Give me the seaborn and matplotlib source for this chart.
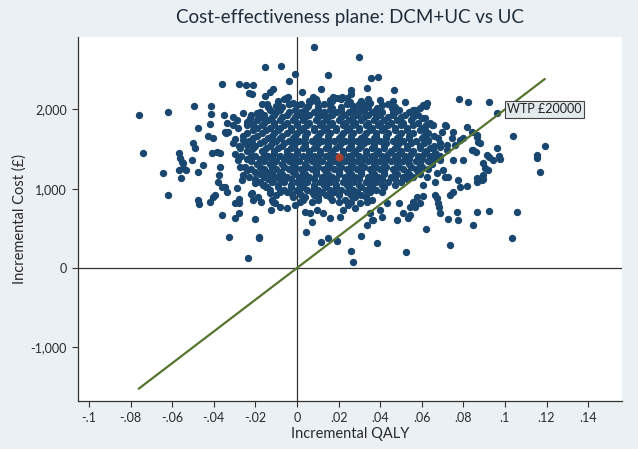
import matplotlib
matplotlib.use('Agg')
import matplotlib.pyplot as plt
import seaborn as sns
import pandas as pd

# Bootstrap replicates: scattered points (qaly, cost)
outer_points = [
    # far left
    (-0.0761, 1929), (-0.0619, 1963), (-0.0740, 1446), (-0.0643, 1194), (-0.0619, 920),
    (-0.0559, 1131), (-0.0567, 1236), (-0.0547, 1257), (-0.0534, 1236),
    (-0.0567, 1446), (-0.0563, 1383), (-0.0555, 1340), (-0.0547, 1320),
    (-0.0506, 1362), (-0.0478, 1215), (-0.0453, 1299), (-0.0498, 1572), (-0.0490, 1509),
    (-0.0494, 2043), (-0.0474, 1769), (-0.0413, 2043), (-0.0413, 1938), (-0.0418, 1812),
    (-0.0429, 1665), (-0.0402, 1643), (-0.0409, 1446), (-0.0386, 1467), (-0.0370, 1446),
    (-0.0370, 1278), (-0.0374, 1173), (-0.0378, 1088), (-0.0362, 1025),
    (-0.0394, 920), (-0.0402, 899), (-0.0474, 857), (-0.0471, 807), (-0.0418, 836),
    (-0.0351, 1929), (-0.0338, 1824), (-0.0346, 1719), (-0.0341, 1707),
    (-0.0306, 1908), (-0.0306, 1803), (-0.0290, 1866),
    (-0.0282, 1761), (-0.0298, 1623), (-0.0309, 1572), (-0.0330, 1719),
    (-0.0258, 1954), (-0.0242, 1845), (-0.0226, 1888), (-0.0210, 1803), (-0.0194, 1954), (-0.0186, 1888),
    (-0.0274, 1509), (-0.0242, 1551), (-0.0218, 1572), (-0.0258, 1614),
    (-0.0282, 1362), (-0.0274, 1278), (-0.0258, 1173), (-0.0242, 1236), (-0.0266, 1110),
    (-0.0346, 1025), (-0.0338, 962), (-0.0290, 1005), (-0.0298, 816),
    (-0.0218, 944), (-0.0210, 857), (-0.0186, 899),
    (-0.0178, 1362), (-0.0162, 1236), (-0.0146, 1404), (-0.0130, 1152), (-0.0114, 1278),
    (-0.0146, 1025), (-0.0130, 941), (-0.0122, 857), (-0.0106, 816), (-0.0082, 774),
    # lower left
    (-0.0359, 671), (-0.0326, 395), (-0.0297, 634), (-0.0278, 697), (-0.0278, 816), (-0.0279, 866),
    (-0.0237, 122), (-0.0200, 618), (-0.0184, 395), (-0.0184, 375),
    (-0.0221, 933), (-0.0173, 836), (-0.0125, 731), (-0.0117, 836), (-0.0050, 753), (-0.0010, 794),
    (-0.0082, 962), (-0.0026, 933), (-0.0114, 1110), (-0.0162, 1047), (-0.0202, 1068),
    # top
    (0.0082, 2783), (0.0298, 2665), (-0.0155, 2531), (-0.0078, 2551), (-0.0010, 2450), (-0.0037, 2354),
    (0.0147, 2438), (0.0356, 2400), (0.0388, 2409), (-0.0360, 2316), (-0.0280, 2316), (-0.0245, 2312),
    (-0.0213, 2304), (-0.0232, 2203), (-0.0216, 2198), (0.0115, 2261), (0.0022, 2215), (0.0335, 2274),
    (0.0466, 2245), (0.0261, 2245), (0.0261, 2190),
    (-0.0152, 2169), (-0.0130, 2223), (-0.0117, 2253),
    (-0.0143, 2068), (-0.0101, 2043), (-0.0085, 2047), (-0.0053, 2148), (-0.0042, 2160),
    (-0.0038, 2068), (-0.0018, 2077), (0.0000, 2055), (0.0062, 2097), (0.0078, 2160), (0.0095, 2097),
    (0.0054, 2039), (0.0159, 2119), (0.0175, 2160), (0.0191, 2140), (0.0215, 2156), (0.0239, 2140),
    (0.0159, 2055), (0.0167, 2014), (0.0255, 2097), (0.0271, 2047), (0.0303, 2035), (0.0327, 2055),
    (0.0351, 2077), (0.0399, 2119), (0.0407, 2055), (0.0383, 2022),
    (0.0455, 2014), (0.0463, 1971), (0.0519, 2097), (0.0556, 1992), (0.0591, 2014), (0.0620, 2047),
    # lower right
    (0.0043, 450), (0.0071, 584), (0.0114, 324), (0.0150, 382), (0.0191, 340), (0.0258, 214), (0.0271, 79),
    (0.0306, 404), (0.0338, 542), (0.0359, 605), (0.0383, 311), (0.0411, 647), (0.0479, 605),
    (0.0492, 816), (0.0524, 206), (0.0511, 690), (0.0543, 668), (0.0535, 627), (0.0543, 773),
    (0.0559, 836), (0.0567, 773), (0.0575, 899), (0.0620, 492), (0.0591, 816), (0.0607, 908),
    (0.0663, 920), (0.0672, 879), (0.0680, 816), (0.0684, 773), (0.0688, 690),
    (0.0727, 614), (0.0736, 290), (0.0768, 710), (0.0776, 605), (0.0845, 542), (0.0864, 710),
    (0.0925, 723), (0.1032, 375), (0.1056, 710),
    (0.0736, 920), (0.0752, 962), (0.0784, 1025), (0.0776, 1110), (0.0864, 1088), (0.0896, 1119), (0.0816, 1034),
    (0.0014, 836), (0.0038, 710), (0.0062, 690), (0.0095, 731), (0.0127, 690), (0.0159, 627),
    (0.0207, 647), (0.0223, 731), (0.0247, 794), (0.0279, 753), (0.0303, 816), (0.0335, 836),
    (0.0351, 690), (0.0367, 605), (0.0399, 731), (0.0431, 816),
    # right
    (0.0779, 2131), (0.0824, 2090), (0.0925, 2090), (0.0960, 1958),
    (0.0607, 2055), (0.0567, 1992), (0.0615, 1888), (0.0656, 1803), (0.0716, 1795), (0.0752, 1719), (0.0699, 1719),
    (0.0816, 1782), (0.0864, 1677), (0.0880, 1572), (0.0840, 1488), (0.0912, 1425), (0.0944, 1362),
    (0.0960, 1509), (0.0896, 1320), (0.0864, 1131), (0.0888, 1110), (0.0920, 1236),
    (0.0704, 1236), (0.0727, 1152), (0.0752, 1362), (0.0688, 1362), (0.0720, 1488), (0.0760, 1551),
    (0.0784, 1614), (0.0797, 1635),
    (0.1037, 1668), (0.1192, 1538), (0.1155, 1425), (0.1155, 1383), (0.1168, 1207),
    (0.0971, 1412), (0.0976, 1371), (0.0925, 1404), (0.0904, 1257),
    (0.0896, 1173), (0.0840, 1719), (0.0864, 1656), (0.0872, 1593), (0.0848, 1488), (0.0860, 1467),
    (0.0800, 1362), (0.0744, 1635), (0.0712, 1803), (0.0720, 1551), (0.0688, 1530),
    (0.0624, 2077), (0.0600, 1888), (0.0615, 1740), (0.0631, 1614), (0.0648, 1803), (0.0656, 1509),
    (0.0663, 1446), (0.0663, 1088), (0.0712, 1152), (0.0607, 1047), (0.0624, 1152), (0.0672, 1194),
]

# Dense core of the cloud, read row by row: cost level and the qaly values on it
core_cost = [2130, 2100, 2065, 2030, 1995, 1962, 1930, 1898, 1865, 1832, 1800, 1768,
             1735, 1702, 1670, 1638, 1605, 1572, 1540, 1508, 1475, 1442, 1410, 1378,
             1345, 1312, 1280, 1248, 1215, 1182, 1150, 1118, 1085, 1052, 1020, 988,
             955, 922, 890, 860, 830]
core_qaly = [
    [-0.006, 0.009, 0.021, 0.034],
    [-0.009, 0.006, 0.017, 0.031, 0.046],
    [-0.017, -0.004, 0.002, 0.013, 0.024, 0.030, 0.044],
    [-0.014, -0.007, 0.005, 0.010, 0.021, 0.027, 0.034, 0.047],
    [-0.013, -0.008, -0.001, 0.004, 0.010, 0.016, 0.021, 0.027, 0.032, 0.038, 0.049],
    [-0.018, -0.010, -0.004, 0.002, 0.008, 0.013, 0.019, 0.025, 0.030, 0.036, 0.041, 0.047, 0.054],
    [-0.022, -0.016, -0.011, -0.005, 0.001, 0.006, 0.012, 0.017, 0.023, 0.029, 0.034, 0.040, 0.046, 0.052, 0.058],
    [-0.017, -0.012, -0.007, -0.001, 0.004, 0.010, 0.015, 0.021, 0.027, 0.032, 0.038, 0.044, 0.050, 0.056],
    [-0.019, -0.014, -0.008, -0.002, 0.003, 0.009, 0.014, 0.020, 0.025, 0.031, 0.037, 0.042, 0.048, 0.055],
    [-0.022, -0.016, -0.011, -0.005, 0.000, 0.006, 0.012, 0.017, 0.023, 0.028, 0.034, 0.040, 0.045, 0.051, 0.058, 0.064],
    [-0.024, -0.017, -0.011, -0.006, 0.000, 0.005, 0.011, 0.016, 0.022, 0.027, 0.033, 0.039, 0.044, 0.050, 0.056, 0.062],
    [-0.019, -0.013, -0.008, -0.003, 0.003, 0.008, 0.014, 0.019, 0.025, 0.030, 0.036, 0.042, 0.047, 0.053, 0.060],
    [-0.021, -0.015, -0.009, -0.003, 0.002, 0.008, 0.013, 0.019, 0.024, 0.030, 0.035, 0.041, 0.047, 0.053, 0.059],
    [-0.024, -0.017, -0.011, -0.005, 0.000, 0.005, 0.011, 0.016, 0.022, 0.027, 0.033, 0.038, 0.044, 0.050, 0.056, 0.063],
    [-0.026, -0.019, -0.012, -0.007, -0.001, 0.004, 0.010, 0.015, 0.021, 0.026, 0.032, 0.038, 0.043, 0.049, 0.054, 0.061, 0.066],
    [-0.021, -0.014, -0.008, -0.002, 0.004, 0.009, 0.015, 0.020, 0.026, 0.031, 0.037, 0.043, 0.048, 0.054, 0.060, 0.068],
    [-0.023, -0.016, -0.010, -0.004, 0.001, 0.007, 0.012, 0.018, 0.023, 0.029, 0.034, 0.040, 0.046, 0.051, 0.057, 0.063],
    [-0.025, -0.018, -0.012, -0.006, -0.001, 0.004, 0.010, 0.015, 0.021, 0.026, 0.032, 0.037, 0.043, 0.049, 0.055, 0.061, 0.069],
    [-0.028, -0.020, -0.013, -0.007, -0.002, 0.004, 0.009, 0.015, 0.020, 0.026, 0.031, 0.037, 0.042, 0.048, 0.053, 0.059, 0.066],
    [-0.021, -0.015, -0.009, -0.003, 0.003, 0.008, 0.014, 0.019, 0.025, 0.030, 0.036, 0.042, 0.047, 0.053, 0.059, 0.064],
    [-0.024, -0.017, -0.011, -0.005, 0.000, 0.006, 0.011, 0.017, 0.022, 0.028, 0.033, 0.039, 0.045, 0.050, 0.056, 0.062],
    [-0.030, -0.022, -0.016, -0.011, -0.005, 0.000, 0.006, 0.011, 0.016, 0.022, 0.027, 0.033, 0.038, 0.044, 0.049, 0.055, 0.061, 0.067],
    [-0.027, -0.020, -0.014, -0.008, -0.003, 0.003, 0.008, 0.014, 0.019, 0.025, 0.030, 0.036, 0.041, 0.047, 0.052, 0.058, 0.064, 0.069],
    [-0.024, -0.018, -0.012, -0.006, -0.001, 0.005, 0.010, 0.016, 0.021, 0.026, 0.032, 0.037, 0.043, 0.048, 0.054, 0.060, 0.066],
    [-0.022, -0.016, -0.010, -0.004, 0.001, 0.007, 0.012, 0.018, 0.023, 0.029, 0.034, 0.040, 0.045, 0.051, 0.057, 0.063],
    [-0.019, -0.013, -0.007, -0.002, 0.004, 0.009, 0.015, 0.020, 0.026, 0.031, 0.037, 0.042, 0.048, 0.054, 0.059, 0.065],
    [-0.025, -0.018, -0.012, -0.006, -0.001, 0.005, 0.010, 0.016, 0.021, 0.027, 0.032, 0.038, 0.043, 0.049, 0.055, 0.060],
    [-0.022, -0.016, -0.010, -0.004, 0.002, 0.007, 0.013, 0.018, 0.024, 0.029, 0.035, 0.040, 0.046, 0.051, 0.057, 0.063],
    [-0.020, -0.014, -0.008, -0.002, 0.003, 0.009, 0.014, 0.020, 0.025, 0.031, 0.036, 0.042, 0.047, 0.053, 0.058],
    [-0.018, -0.012, -0.007, -0.001, 0.004, 0.009, 0.015, 0.020, 0.026, 0.031, 0.037, 0.042, 0.048, 0.054, 0.059],
    [-0.023, -0.016, -0.010, -0.005, 0.001, 0.006, 0.012, 0.017, 0.023, 0.028, 0.034, 0.039, 0.045, 0.051, 0.056],
    [-0.020, -0.014, -0.008, -0.003, 0.003, 0.008, 0.014, 0.019, 0.025, 0.030, 0.036, 0.041, 0.047, 0.053],
    [-0.018, -0.012, -0.006, 0.000, 0.005, 0.011, 0.016, 0.022, 0.027, 0.033, 0.038, 0.044, 0.050],
    [-0.016, -0.009, -0.003, 0.002, 0.008, 0.013, 0.019, 0.024, 0.030, 0.035, 0.041, 0.047],
    [-0.015, -0.009, -0.003, 0.003, 0.008, 0.014, 0.019, 0.025, 0.031, 0.036, 0.042],
    [-0.013, -0.006, 0.000, 0.005, 0.010, 0.016, 0.021, 0.027, 0.033, 0.038],
    [-0.005, 0.001, 0.007, 0.012, 0.018, 0.024, 0.029, 0.035, 0.041],
    [-0.010, 0.002, 0.008, 0.014, 0.020, 0.026, 0.031],
    [-0.002, 0.004, 0.010, 0.016, 0.028, 0.033],
    [0.003, 0.010, 0.017, 0.023, 0.036],
    [0.007, 0.020, 0.026],
]

mean_qaly = [0.020]
mean_cost = [1400]
wtp = 20000

x_ticks = [-0.1, -0.08, -0.06, -0.04, -0.02, 0, 0.02, 0.04, 0.06, 0.08, 0.1, 0.12, 0.14]
x_labels = ['-.1', '-.08', '-.06', '-.04', '-.02', '0', '.02', '.04', '.06', '.08', '.1', '.12', '.14']
y_ticks = [-1000, 0, 1000, 2000]
y_labels = ['-1,000', '0', '1,000', '2,000']

# Build one table for seaborn
rows = list(outer_points)
for c, xs in zip(core_cost, core_qaly):
    rows += [(x, c) for x in xs]
df = pd.DataFrame(rows, columns=['qaly', 'cost'])

wtp_line = pd.DataFrame({'qaly': [df['qaly'].min(), df['qaly'].max()]})
wtp_line['cost'] = wtp_line['qaly'] * wtp

bg = '#eaf0f3'
navy = '#1a476f'
sns.set_style('white')
plt.rcParams['font.family'] = ['Lato', 'DejaVu Sans']

fig = plt.figure(figsize=(6.38, 4.49), dpi=100, facecolor=bg)
ax = fig.add_axes([78 / 638, 48 / 449, 544 / 638, 364 / 449])
ax.set_facecolor('white')

ax.axvline(0, color='#333333', lw=0.9, zorder=1)
ax.axhline(0, color='#333333', lw=0.9, zorder=1)

sns.scatterplot(data=df, x='qaly', y='cost', ax=ax, color=navy, s=28,
                linewidth=0, zorder=2, legend=False)
sns.lineplot(data=wtp_line, x='qaly', y='cost', ax=ax, color='#55752f',
             lw=1.6, zorder=3, estimator=None)
sns.scatterplot(x=mean_qaly, y=mean_cost, ax=ax, color='#a8422e', s=34,
                linewidth=0, zorder=4, legend=False)

ax.text(0.119, 2000, 'WTP £20000', ha='center', va='center', fontsize=9,
        color='#222222', zorder=5,
        bbox=dict(boxstyle='square,pad=0.2', facecolor='#e3eaee',
                  edgecolor='#444444', lw=0.8))

ax.set_xlim(-0.1053, 0.1563)
ax.set_ylim(-1677, 2913)
ax.set_xticks(x_ticks)
ax.set_xticklabels(x_labels)
ax.set_yticks(y_ticks)
ax.set_yticklabels(y_labels)
ax.tick_params(axis='both', direction='out', length=4, width=0.8,
               color='#333333', labelsize=9, labelcolor='#2a2a2a', pad=4,
               bottom=True, left=True)

for side in ['top', 'right']:
    ax.spines[side].set_visible(False)
for side in ['left', 'bottom']:
    ax.spines[side].set_color('#333333')
    ax.spines[side].set_linewidth(0.9)

ax.set_xlabel('Incremental QALY', fontsize=10.5, color='#2a2a2a', labelpad=2)
ax.set_ylabel('Incremental Cost (£)', fontsize=10.5, color='#2a2a2a', labelpad=3)
ax.set_title('Cost-effectiveness plane: DCM+UC vs UC', fontsize=13.5,
             color='#1f2d3a', pad=10)

fig.savefig('out.png', dpi=100, facecolor=bg)
